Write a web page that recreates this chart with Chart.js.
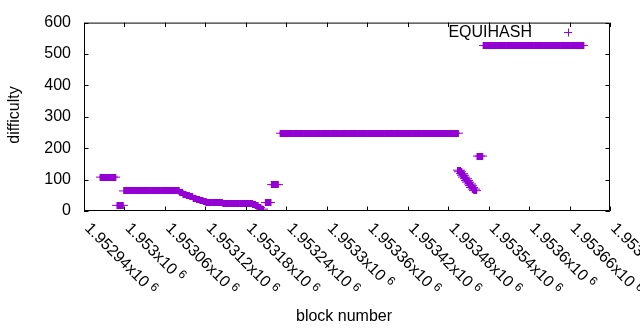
<!DOCTYPE html>
<html>
<head>
<meta charset="utf-8">
<script src="https://cdn.jsdelivr.net/npm/chart.js@4.4.0/dist/chart.umd.min.js"></script>
<style>
  html, body { margin: 0; padding: 0; background: #fff; }
  #chart { display: block; }
</style>
</head>
<body>
<canvas id="chart" width="640" height="330"></canvas>
<script>
/* ─── Data (block number / difficulty) ────────────────────────── */
const blocks = [
  // ~108
  1952966, 1952971, 1952976, 1952981, 1952985,
  // dip
  1952991, 1952996,
  // ~64
  1953001, 1953006, 1953011, 1953016, 1953021, 1953026, 1953031, 1953036, 1953041, 1953046,
  1953051, 1953056, 1953061, 1953066, 1953071, 1953076, 1953079,
  // slide down
  1953084, 1953089, 1953094, 1953099, 1953104, 1953109, 1953114, 1953119,
  // ~27
  1953123, 1953128, 1953133, 1953138, 1953143,
  // ~24
  1953148, 1953153, 1953158, 1953163, 1953168, 1953173, 1953178, 1953183, 1953188,
  // tail
  1953192, 1953196, 1953200, 1953204,
  // 27
  1953211, 1953215,
  // 84
  1953220, 1953223, 1953226,
  // ~248
  1953233, 1953238, 1953243, 1953248, 1953253, 1953258, 1953263, 1953268, 1953273, 1953278,
  1953283, 1953288, 1953293, 1953298, 1953303, 1953308, 1953313, 1953318, 1953323, 1953328,
  1953333, 1953338, 1953343, 1953348, 1953353, 1953358, 1953363, 1953368, 1953373, 1953378,
  1953383, 1953388, 1953393, 1953398, 1953403, 1953408, 1953413, 1953418, 1953423, 1953428,
  1953433, 1953438, 1953443, 1953448, 1953453, 1953458, 1953463, 1953468, 1953473, 1953478,
  1953483, 1953488, 1953493,
  // drop
  1953496, 1953498, 1953500, 1953502, 1953504, 1953506, 1953508, 1953510, 1953512, 1953514,
  1953516, 1953518, 1953520,
  // 175
  1953525, 1953529,
  // ~527
  1953534, 1953539, 1953544, 1953549, 1953554, 1953559, 1953564, 1953569, 1953574, 1953579,
  1953584, 1953589, 1953594, 1953599, 1953604, 1953609, 1953614, 1953619, 1953624, 1953629,
  1953634, 1953639, 1953644, 1953649, 1953654, 1953659, 1953664, 1953669, 1953674, 1953679
];
const difficulty = [
  108, 108, 108, 108, 108,
  18, 18,
  64, 64, 64, 64, 64, 64, 64, 64, 64, 64,
  64, 64, 64, 64, 64, 64, 64,
  59, 54, 49, 45, 41, 37, 34, 31,
  27, 27, 27, 27, 27,
  24, 24, 24, 24, 24, 24, 24, 24, 24,
  21, 16, 11, 6,
  27, 27,
  84, 84, 84,
  248, 248, 248, 248, 248, 248, 248, 248, 248, 248,
  248, 248, 248, 248, 248, 248, 248, 248, 248, 248,
  248, 248, 248, 248, 248, 248, 248, 248, 248, 248,
  248, 248, 248, 248, 248, 248, 248, 248, 248, 248,
  248, 248, 248, 248, 248, 248, 248, 248, 248, 248,
  248, 248, 248,
  130, 125, 119, 114, 108, 103, 97, 92, 86, 81,
  75, 70, 65,
  175, 175,
  527, 527, 527, 527, 527, 527, 527, 527, 527, 527,
  527, 527, 527, 527, 527, 527, 527, 527, 527, 527,
  527, 527, 527, 527, 527, 527, 527, 527, 527, 527
];
const xTickValues = [1952940, 1953000, 1953060, 1953120, 1953180, 1953240, 1953300,
                     1953360, 1953420, 1953480, 1953540, 1953600, 1953660, 1953720];
const xTickLabels = ['1.95294', '1.953', '1.95306', '1.95312', '1.95318', '1.95324', '1.9533',
                     '1.95336', '1.95342', '1.95348', '1.95354', '1.9536', '1.95366', '1.95372'];
const yTickValues = [0, 100, 200, 300, 400, 500, 600];

const SERIES_NAME = 'EQUIHASH';
const PURPLE = '#9400d3';
const FONT = '"Liberation Sans", Arial, sans-serif';
const FONT_SIZE = 16;

/* ─── gnuplot style "+" marker: thin arms, wider stem so runs read solid ─── */
function makeMarker() {
  const c = document.createElement('canvas');
  c.width = 12; c.height = 7;
  const g = c.getContext('2d');
  g.fillStyle = PURPLE;
  g.fillRect(4, 0, 4, 7);
  g.fillRect(0, 3, 12, 1);
  return c;
}

/* ─── Frame, ticks, labels, key ─────────────────────────── */
const gnuplotFrame = {
  id: 'gnuplotFrame',
  afterDraw(chart) {
    const { ctx, chartArea: a, scales: { x, y } } = chart;
    const TL = 4.5;
    ctx.save();
    ctx.strokeStyle = '#000';
    ctx.lineWidth = 1;
    ctx.beginPath();
    ctx.rect(a.left + 0.5, a.top + 0.5, a.right - a.left - 1, a.bottom - a.top - 1);
    xTickValues.forEach(v => {
      const px = Math.round(x.getPixelForValue(v)) + 0.5;
      ctx.moveTo(px, a.bottom); ctx.lineTo(px, a.bottom - TL);
      ctx.moveTo(px, a.top);    ctx.lineTo(px, a.top + TL);
    });
    yTickValues.forEach(v => {
      const py = Math.round(y.getPixelForValue(v)) + 0.5;
      ctx.moveTo(a.left, py);  ctx.lineTo(a.left + TL, py);
      ctx.moveTo(a.right, py); ctx.lineTo(a.right - TL, py);
    });
    ctx.stroke();

    // rotated x tick labels
    ctx.fillStyle = '#000';
    xTickValues.forEach((v, i) => {
      const px = x.getPixelForValue(v);
      ctx.save();
      ctx.translate(px, a.bottom + 18);
      ctx.rotate(Math.PI / 4);
      ctx.textAlign = 'left';
      ctx.textBaseline = 'alphabetic';
      ctx.font = FONT_SIZE + 'px ' + FONT;
      const main = xTickLabels[i] + 'x10';
      ctx.fillText(main, 0, 0);
      const w = ctx.measureText(main).width;
      ctx.font = '12px ' + FONT;
      ctx.fillText('6', w + 4, -5);
      ctx.restore();
    });

    // axis titles
    ctx.font = FONT_SIZE + 'px ' + FONT;
    ctx.textAlign = 'center';
    ctx.textBaseline = 'alphabetic';
    ctx.fillText('block number', 344, 321);
    ctx.save();
    ctx.translate(19, 115);
    ctx.rotate(-Math.PI / 2);
    ctx.fillText('difficulty', 0, 0);
    ctx.restore();

    // key
    ctx.textAlign = 'right';
    ctx.fillText(chart.data.datasets[0].label, 532, 37);
    ctx.strokeStyle = PURPLE;
    ctx.beginPath();
    ctx.moveTo(564, 32.5); ctx.lineTo(572, 32.5);
    ctx.moveTo(568.5, 28.5); ctx.lineTo(568.5, 36.5);
    ctx.stroke();
    ctx.restore();
  }
};

/* ─── Chart ──────────────────────────────────────────────── */
const points = blocks.map((b, i) => ({ x: b, y: difficulty[i] }));

new Chart(document.getElementById('chart'), {
  type: 'scatter',
  data: {
    datasets: [{
      label: SERIES_NAME,
      data: points,
      pointStyle: makeMarker(),
      pointRadius: 4,
      borderColor: PURPLE,
      backgroundColor: PURPLE
    }]
  },
  options: {
    responsive: false,
    animation: false,
    events: [],
    layout: { padding: { top: 19, right: 30, left: 0, bottom: 0 } },
    plugins: { legend: { display: false }, tooltip: { enabled: false } },
    scales: {
      x: {
        type: 'linear',
        min: 1952940,
        max: 1953720,
        grid: { display: false, drawTicks: false },
        border: { display: false },
        ticks: { display: false, stepSize: 60 },
        afterFit: s => { s.height = 119; }
      },
      y: {
        min: 0,
        max: 600,
        grid: { display: false, drawTicks: false },
        border: { display: false },
        ticks: {
          stepSize: 100,
          padding: 13,
          color: '#000',
          font: { family: FONT, size: FONT_SIZE }
        },
        afterFit: s => { s.width = 84; }
      }
    }
  },
  plugins: [gnuplotFrame]
});
</script>
</body>
</html>
